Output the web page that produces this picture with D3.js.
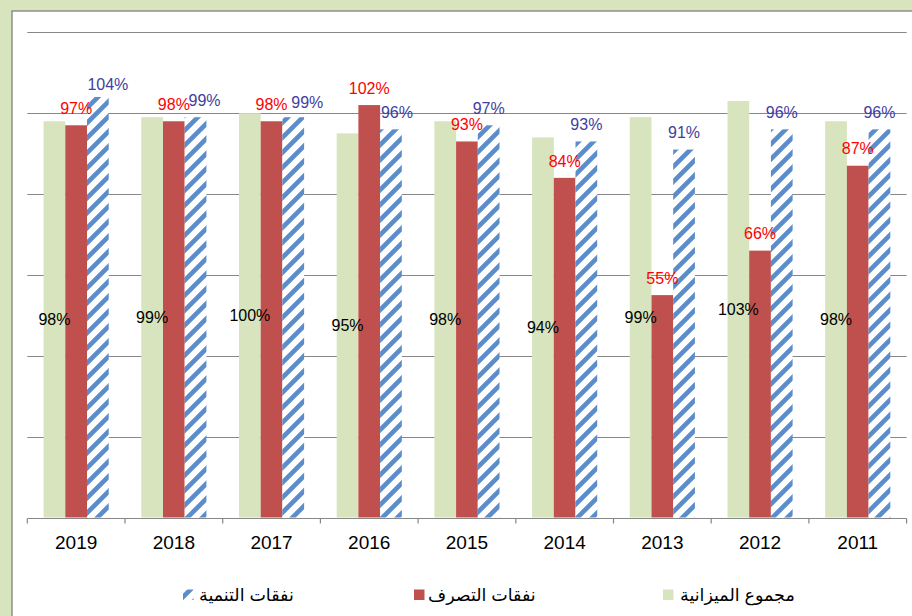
<!DOCTYPE html>
<html>
<head>
<meta charset="utf-8">
<script src="https://cdn.jsdelivr.net/npm/d3@7/dist/d3.min.js"></script>
<style>
  html, body { margin: 0; padding: 0; background: #d7e4bd; }
  svg { display: block; }
  text { font-family: "Liberation Sans", Arial, "DejaVu Sans", sans-serif; }
</style>
</head>
<body>
<svg id="chart" width="912" height="616"></svg>
<script>
(function () {
// ---- data ----
const years = ["2019", "2018", "2017", "2016", "2015", "2014", "2013", "2012", "2011"];
const budgetTotal = [98, 99, 100, 95, 98, 94, 99, 103, 98];      // مجموع الميزانية
const operating   = [97, 98, 98, 102, 93, 84, 55, 66, 87];       // نفقات التصرف
const development = [104, 99, 99, 96, 97, 93, 91, 96, 96];       // نفقات التنمية
const seriesNames = ["مجموع الميزانية", "نفقات التصرف", "نفقات التنمية"];
const yTicks = [0, 20, 40, 60, 80, 100, 120];
// manual label nudges for development labels (as in the original)
const devLabelNudge = [[10, 4], [9, 0], [14, 2], [6, 0], [0, 0], [0, 0], [0, 0], [0, 0], [0, 0]];

const svg = d3.select("#chart");
const W = 912, H = 616;

// frame
svg.append("rect").attr("x", 0).attr("y", 0).attr("width", W).attr("height", H).attr("fill", "#d7e4bd");
svg.append("rect").attr("x", 12).attr("y", 11).attr("width", W + 10).attr("height", H + 10)
  .attr("fill", "#ffffff").attr("stroke", "#808080").attr("stroke-width", 1.3);

const pLeft = 27.3, pRight = 906.6, pTop = 32.3, pBottom = 517.5;

const x = d3.scaleBand().domain(years).range([pLeft, pRight]).paddingInner(0).paddingOuter(0);
const bw = x.bandwidth() / 4.5;
const off = i => 0.75 * bw + i * bw;

const y = d3.scaleLinear().domain([0, 120]).range([pBottom, pTop]);

// pattern
const defs = svg.append("defs");
const pat = defs.append("pattern").attr("id", "hatch").attr("patternUnits", "userSpaceOnUse")
  .attr("width", 15).attr("height", 15);
pat.append("rect").attr("width", 15).attr("height", 15).attr("fill", "#ffffff");
pat.append("path").attr("d", "M-4,4 L4,-4 M0,15 L15,0 M11,19 L19,11")
  .attr("stroke", "#5b8ccc").attr("stroke-width", 4.6);

// gridlines
svg.append("g").selectAll("line").data(yTicks.filter(d => d > 0)).join("line")
  .attr("x1", pLeft).attr("x2", pRight)
  .attr("y1", d => Math.round(y(d)) + 0.5).attr("y2", d => Math.round(y(d)) + 0.5)
  .attr("stroke", "#878787").attr("stroke-width", 1.2);

const bars = svg.append("g");
const series = [budgetTotal, operating, development];
const fills = ["#d7e4bd", "#c0504d", "url(#hatch)"];
series.forEach((vals, s) => {
  bars.append("g").selectAll("rect").data(vals).join("rect")
    .attr("x", (d, i) => x(years[i]) + off(s))
    .attr("width", bw)
    .attr("y", d => y(d))
    .attr("height", d => y(0) - y(d))
    .attr("fill", fills[s]);
});

// axis
const axisG = svg.append("g").attr("transform", `translate(0,${Math.round(pBottom) + 0.5})`);
axisG.append("line").attr("x1", pLeft).attr("x2", pRight).attr("stroke", "#878787").attr("stroke-width", 1.2);
const bounds = years.map(d => x(d)).concat([pRight]);
axisG.selectAll("line.tk").data(bounds).join("line").attr("class", "tk")
  .attr("x1", d => d).attr("x2", d => d).attr("y1", 0).attr("y2", 5)
  .attr("stroke", "#878787").attr("stroke-width", 1.2);
axisG.selectAll("text").data(years).join("text")
  .attr("x", d => x(d) + x.bandwidth() / 2).attr("y", 30.5)
  .attr("text-anchor", "middle").attr("font-size", 19).attr("fill", "#000")
  .text(d => d);

// labels
const lab = svg.append("g").attr("font-size", 16).attr("text-anchor", "middle");
lab.selectAll("text.g").data(budgetTotal).join("text").attr("class", "g")
  .attr("x", (d, i) => x(years[i]) + off(0) + bw / 2)
  .attr("y", d => (y(d) + y(0)) / 2 + 5.7)
  .attr("fill", "#000").text(d => d + "%");
lab.selectAll("text.r").data(operating).join("text").attr("class", "r")
  .attr("x", (d, i) => x(years[i]) + off(1) + bw / 2)
  .attr("y", d => y(d) - 17 + 5.7)
  .attr("fill", "#ff0000").text(d => d + "%");
lab.selectAll("text.b").data(development).join("text").attr("class", "b")
  .attr("x", (d, i) => x(years[i]) + off(2) + bw / 2 + devLabelNudge[i][0])
  .attr("y", (d, i) => y(d) - 17 + 5.7 + devLabelNudge[i][1])
  .attr("fill", "#4040a0").text(d => d + "%");

// legend
const leg = svg.append("g");
const legItems = [
  { name: seriesNames[0], fill: fills[0], sx: 663, tx: 680 },
  { name: seriesNames[1], fill: fills[1], sx: 414, tx: 428 },
  { name: seriesNames[2], fill: fills[2], sx: 183, tx: 199 }
];
legItems.forEach(it => {
  leg.append("rect").attr("x", it.sx).attr("y", 589.5).attr("width", 10.5).attr("height", 10.5).attr("fill", it.fill);
  leg.append("text").attr("x", it.tx).attr("y", 600.5).attr("font-size", 17.5)
    .attr("text-anchor", "start").attr("direction", "ltr").attr("fill", "#000").text(it.name);
});
})();
</script>
</body>
</html>
